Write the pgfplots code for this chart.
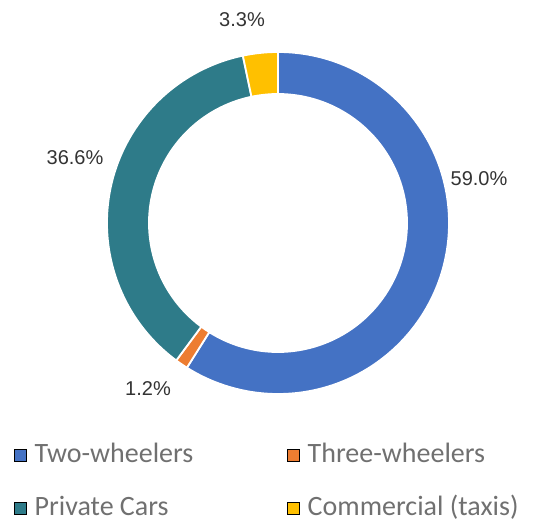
\documentclass[border=0pt]{standalone}
\usepackage{pgfplots}
\usepackage{pgfplotstable}
\pgfplotsset{compat=1.18}
\usepackage{fontspec}
\setmainfont{Liberation Sans}
\newfontfamily\legendfont{Carlito}

\definecolor{cBlue}{HTML}{4472C4}
\definecolor{cOrange}{HTML}{ED7D31}
\definecolor{cTeal}{HTML}{2E7B89}
\definecolor{cYellow}{HTML}{FFC000}
\definecolor{cText}{HTML}{333333}
\definecolor{cLegend}{HTML}{707070}

% share (%), colour, label position (pt from bottom left)
\pgfplotstableread{
name value col lx ly
Two-wheelers 59.0 cBlue 479 342
Three-wheelers 1.2 cOrange 148 132
Private-Cars 36.6 cTeal 75 363
Commercial 3.3 cYellow 242 501
}\shares

\begin{document}
\begin{tikzpicture}
\begin{axis}[
    axis line style={draw=none},
    xtick=\empty, ytick=\empty,
    scale only axis,
    width=549pt, height=521pt,
    xmin=0, xmax=549, ymin=0, ymax=521,
    clip=false,
    legend columns=2,
    legend cell align=left,
    legend image code/.code={\fill[#1] (0pt,-6pt) rectangle (12pt,6pt);},
    legend style={
        at={(axis cs:14,79)}, anchor=north west,
        draw=none, fill=none, inner sep=0pt,
        font=\legendfont\fontsize{28}{30}\selectfont,
        text=cLegend,
        row sep=27pt,
        nodes={inner xsep=8pt, inner ysep=0pt, text height=20pt, text depth=6pt},
        /tikz/every even column/.append style={column sep=86pt},
    },
]
\def\cx{278}
\def\cy{298}
\def\total{0}
\pgfplotsforeachungrouped \i in {0,...,3} {
    \pgfplotstablegetelem{\i}{value}\of\shares
    \pgfmathsetmacro\total{\total+\pgfplotsretval}
}
\def\acc{90}
\pgfplotsforeachungrouped \i in {0,...,3} {
    \pgfplotstablegetelem{\i}{value}\of\shares \let\v\pgfplotsretval
    \pgfplotstablegetelem{\i}{col}\of\shares \let\col\pgfplotsretval
    \pgfplotstablegetelem{\i}{lx}\of\shares \let\lx\pgfplotsretval
    \pgfplotstablegetelem{\i}{ly}\of\shares \let\ly\pgfplotsretval
    \pgfmathsetmacro\aend{\acc-\v/\total*360}
    \edef\tmp{%
        \noexpand\fill[\col, draw=white, line width=1.8pt]
            (axis cs:{\cx+171*cos(\acc)},{\cy+171*sin(\acc)})
            arc[start angle=\acc, end angle=\aend, radius=171pt]
            -- (axis cs:{\cx+129*cos(\aend)},{\cy+129*sin(\aend)})
            arc[start angle=\aend, end angle=\acc, radius=129pt] -- cycle;
        \noexpand\node[text=cText, font=\noexpand\fontsize{20}{24}\noexpand\selectfont]
            at (axis cs:\lx,\ly) {\v\noexpand\%};
    }
    \tmp
    \global\let\acc\aend
}
\addlegendimage{fill=cBlue}
\addlegendentry{Two-wheelers}
\addlegendimage{fill=cOrange}
\addlegendentry{Three-wheelers}
\addlegendimage{fill=cTeal}
\addlegendentry{Private Cars}
\addlegendimage{fill=cYellow}
\addlegendentry{Commercial (taxis)}
\end{axis}
\end{tikzpicture}
\end{document}
